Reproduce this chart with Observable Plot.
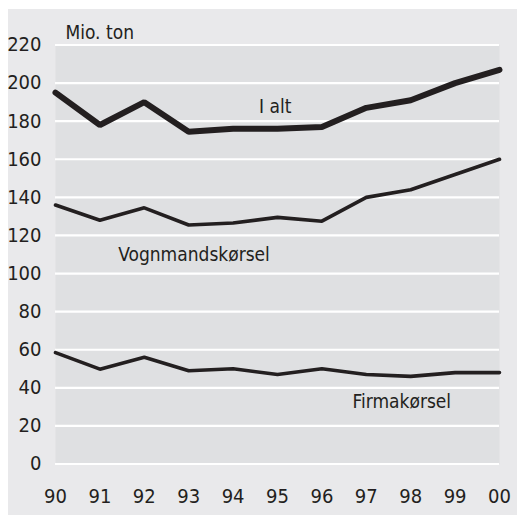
<!DOCTYPE html>
<html>
<head>
<meta charset="utf-8">
<script src="https://cdn.jsdelivr.net/npm/d3@7"></script>
<script src="https://cdn.jsdelivr.net/npm/@observablehq/plot@0.6"></script>
<style>
  html, body { margin: 0; padding: 0; background: #ffffff; }
  #panel { position: absolute; left: 8px; top: 9px; width: 509px; height: 506px; background: #e9e9eb; }
  #panel svg { display: block; overflow: visible; }
</style>
</head>
<body>
<div id="panel"></div>
<script>
const years = [1990, 1991, 1992, 1993, 1994, 1995, 1996, 1997, 1998, 1999, 2000];
const iAlt = [195, 178, 190, 174.5, 176, 176, 177, 187, 191, 200, 207];
const vognmand = [136, 128, 134.5, 125.5, 126.5, 129.5, 127.5, 140, 144, 152, 160];
const firma = [58.5, 49.8, 56, 49, 50, 47, 50, 47, 46, 48, 48];
const yTicks = [0, 20, 40, 60, 80, 100, 120, 140, 160, 180, 200, 220];
const seriesNames = ["I alt", "Vognmandskørsel", "Firmakørsel"];
const labelX = [1994.95, 1993.12, 1997.8];
const labelY = [187.5, 110, 32.8];
const unitLabel = "Mio. ton";

const font = "'Liberation Sans Narrow', 'DejaVu Sans Condensed', sans-serif";
const ink = "#231f20";

const rows = (vals) => years.map((y, i) => ({year: y, value: vals[i]}));
const labels = seriesNames.map((n, i) => ({name: n, x: labelX[i], y: labelY[i]}));

const chart = Plot.plot({
  width: 509,
  height: 506,
  marginLeft: 47,
  marginRight: 18,
  marginTop: 35.5,
  marginBottom: 51.5,
  style: {fontFamily: font, fontSize: "20px", color: ink, background: "transparent", overflow: "visible"},
  x: {type: "linear", domain: [1990, 2000]},
  y: {domain: [0, 220]},
  marks: [
    Plot.frame({fill: "#dfe0e2", stroke: null}),
    Plot.ruleY(yTicks, {stroke: "#ffffff", strokeWidth: 2.2}),
    Plot.axisY({ticks: yTicks, tickSize: 0, tickPadding: 14, fontSize: 20, fill: ink}),
    Plot.axisX({ticks: years, tickSize: 0, tickPadding: 25, fontSize: 20, fill: ink,
      tickFormat: d => String(d % 100).padStart(2, "0")}),
    Plot.line(rows(firma), {x: "year", y: "value", stroke: ink, strokeWidth: 3.6, strokeLinejoin: "miter"}),
    Plot.line(rows(vognmand), {x: "year", y: "value", stroke: ink, strokeWidth: 3.6, strokeLinejoin: "miter"}),
    Plot.line(rows(iAlt), {x: "year", y: "value", stroke: ink, strokeWidth: 6, strokeLinejoin: "miter"}),
    Plot.text(labels, {x: "x", y: "y", text: "name", fill: ink, fontSize: 19, textAnchor: "middle"}),
    Plot.text([unitLabel], {frameAnchor: "top-left", text: d => d, dx: 10, dy: -6, lineAnchor: "bottom",
      textAnchor: "start", fill: ink, fontSize: 19})
  ]
});
document.getElementById("panel").appendChild(chart);
</script>
</body>
</html>
